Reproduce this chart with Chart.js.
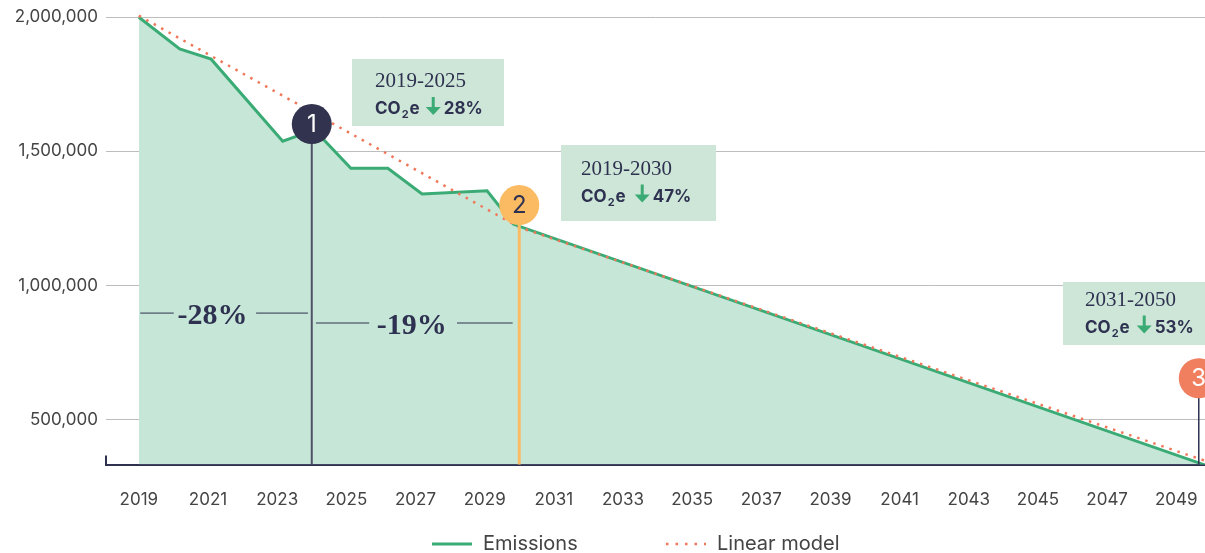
<!DOCTYPE html>
<html>
<head>
<meta charset="utf-8">
<script src="https://cdn.jsdelivr.net/npm/chart.js@4"></script>
<style>
	body { margin: 0; background: #fff; }
	canvas { display: block; }
</style>
</head>
<body>
<canvas id="myChart" width="1205" height="553"></canvas>
<script>
// emissions path (years are fractional where the kinks fall)
const emissionYears = [2019, 2020.18, 2021.09, 2023.16, 2024.08, 2025.13, 2026.2, 2027.19, 2029.07, 2029.84, 2050];
const emissionValues = [2000000, 1882000, 1844000, 1538000, 1580000, 1437000, 1437000, 1341000, 1353000, 1228000, 323000];

const linearYears = [2019, 2030, 2050];
const linearValues = [2006000, 1217000, 339000];

const yearTicks = [2019, 2021, 2023, 2025, 2027, 2029, 2031, 2033, 2035, 2037, 2039, 2041, 2043, 2045, 2047, 2049];
const valueTicks = [500000, 1000000, 1500000, 2000000];

// numbered milestones
const milestoneLabels = ['1', '2', '3'];
const milestoneYears = [2024, 2030, 2049.65];
const milestoneValues = [1602000, 1300000, 654000];

// period boxes
const periodLabels = ['2019-2025', '2019-2030', '2031-2050'];
const periodDrops = ['28%', '47%', '53%'];

// step labels between milestones
const stepLabels = ['-28%', '-19%'];
const stepYears = [2021.13, 2026.89];
const stepValues = [897000, 860000];
const stepDashYears = [
	[2019.04, 2020.01, 2022.39, 2023.89],
	[2024.12, 2025.66, 2028.2, 2029.81],
];

const NAVY = '#2e3150';
const GREEN = '#3bab76';
const CORAL = '#f0785a';

function drawArrow(ctx, cx, top, bottom) {
	ctx.save();
	ctx.strokeStyle = GREEN;
	ctx.fillStyle = GREEN;
	ctx.lineWidth = 3;
	ctx.beginPath();
	ctx.moveTo(cx, top);
	ctx.lineTo(cx, bottom - 5);
	ctx.stroke();
	ctx.beginPath();
	ctx.moveTo(cx - 7.5, bottom - 8);
	ctx.lineTo(cx + 7.5, bottom - 8);
	ctx.lineTo(cx, bottom);
	ctx.closePath();
	ctx.fill();
	ctx.restore();
}

function drawPeriodBox(ctx, box, period, drop) {
	ctx.fillStyle = '#cde6d7';
	ctx.fillRect(box.left, box.top, box.w, box.h);
	ctx.fillStyle = NAVY;
	ctx.textAlign = 'left';
	ctx.textBaseline = 'alphabetic';
	ctx.font = '21px "Liberation Serif"';
	ctx.fillText(period, box.tx, box.b1);

	let cx = box.tx;
	ctx.font = 'bold 17px Inter';
	ctx.fillText('CO', cx, box.b2);
	cx += ctx.measureText('CO').width + 1;
	ctx.font = 'bold 11px Inter';
	ctx.fillText('2', cx, box.b2 + 4);
	cx += ctx.measureText('2').width + 1;
	ctx.font = 'bold 17px Inter';
	ctx.fillText('e', cx, box.b2);
	cx += ctx.measureText('e').width + box.gap;
	drawArrow(ctx, cx + 7.5, box.b2 - 17, box.b2 + 1);
	cx += 18;
	ctx.fillStyle = NAVY;
	ctx.font = 'bold 17px Inter';
	ctx.fillText(drop, cx, box.b2);
}

const boxes = [
	{ left: 352, top: 59, w: 152, h: 67, tx: 375, b1: 87, b2: 114, gap: 6 },
	{ left: 561, top: 145, w: 155, h: 76, tx: 581, b1: 175, b2: 201.5, gap: 9 },
	{ left: 1063, top: 282, w: 152, h: 63, tx: 1085, b1: 306, b2: 332.5, gap: 7 },
];

const milestoneStyles = [
	{ fill: '#32344f', text: '#fff', line: '#4f5268', lineWidth: 2 },
	{ fill: '#fbbb63', text: NAVY, line: '#fbbb63', lineWidth: 3 },
	{ fill: '#f07f5f', text: '#fff', line: NAVY, lineWidth: 1.5 },
];

const overlay = {
	id: 'overlay',
	afterDraw(chart) {
		const { ctx, chartArea, scales: { x, y } } = chart;
		ctx.save();

		// step labels with dashes
		for (let i = 0; i < stepLabels.length; i++) {
			const yy = y.getPixelForValue(stepValues[i]);
			const d = stepDashYears[i].map((v) => x.getPixelForValue(v));
			ctx.strokeStyle = NAVY;
			ctx.lineWidth = 1;
			ctx.beginPath();
			ctx.moveTo(d[0], yy);
			ctx.lineTo(d[1], yy);
			ctx.moveTo(d[2], yy);
			ctx.lineTo(d[3], yy);
			ctx.stroke();
			ctx.fillStyle = NAVY;
			ctx.font = 'bold 30px "Liberation Serif"';
			ctx.textAlign = 'center';
			ctx.textBaseline = 'alphabetic';
			ctx.fillText(stepLabels[i], x.getPixelForValue(stepYears[i]), yy + 10.5);
		}

		// milestone lines and circles
		for (let i = 0; i < milestoneLabels.length; i++) {
			const st = milestoneStyles[i];
			const cx = x.getPixelForValue(milestoneYears[i]);
			const cy = y.getPixelForValue(milestoneValues[i]);
			ctx.strokeStyle = st.line;
			ctx.lineWidth = st.lineWidth;
			ctx.beginPath();
			ctx.moveTo(cx, cy);
			ctx.lineTo(cx, chartArea.bottom);
			ctx.stroke();
			ctx.fillStyle = st.fill;
			ctx.beginPath();
			ctx.arc(cx, cy, 20, 0, Math.PI * 2);
			ctx.fill();
			ctx.fillStyle = st.text;
			ctx.font = '24px Inter';
			ctx.textAlign = 'center';
			ctx.textBaseline = 'middle';
			ctx.fillText(milestoneLabels[i], cx, cy + 1);
		}

		// period boxes
		for (let i = 0; i < boxes.length; i++) {
			drawPeriodBox(ctx, boxes[i], periodLabels[i], periodDrops[i]);
		}

		// small stub at the bottom of the y axis
		ctx.strokeStyle = NAVY;
		ctx.lineWidth = 2;
		ctx.beginPath();
		ctx.moveTo(chartArea.left, chartArea.bottom - 9);
		ctx.lineTo(chartArea.left, chartArea.bottom);
		ctx.stroke();

		// legend
		const ly = 544;
		ctx.strokeStyle = GREEN;
		ctx.lineWidth = 3;
		ctx.beginPath();
		ctx.moveTo(432, ly);
		ctx.lineTo(472, ly);
		ctx.stroke();
		ctx.strokeStyle = CORAL;
		ctx.lineWidth = 2.5;
		ctx.setLineDash([2.5, 7]);
		ctx.beginPath();
		ctx.moveTo(666, ly);
		ctx.lineTo(706, ly);
		ctx.stroke();
		ctx.setLineDash([]);
		ctx.fillStyle = '#444';
		ctx.font = '20px Inter';
		ctx.textAlign = 'left';
		ctx.textBaseline = 'middle';
		ctx.fillText('Emissions', 483, ly);
		ctx.fillText('Linear model', 717, ly);

		ctx.restore();
	},
};

Chart.defaults.font.family = 'Inter';

const emissionPoints = emissionYears.map((yr, i) => ({ x: yr, y: emissionValues[i] }));
const linearPoints = linearYears.map((yr, i) => ({ x: yr, y: linearValues[i] }));

const ctx = document.getElementById('myChart');
const chart = new Chart(ctx, {
	type: 'line',
	data: {
		datasets: [
			{
				label: 'Linear model',
				data: linearPoints,
				borderColor: CORAL,
				borderWidth: 2.5,
				borderDash: [2.5, 6],
				fill: false,
				pointRadius: 0,
				order: 0,
			},
			{
				label: 'Emissions',
				data: emissionPoints,
				borderColor: GREEN,
				borderWidth: 3,
				backgroundColor: '#c6e7d7',
				fill: 'start',
				pointRadius: 0,
				order: 1,
			},
		],
	},
	options: {
		responsive: false,
		animation: false,
		events: [],
		devicePixelRatio: 1,
		layout: {
			padding: { top: 0, right: 0, bottom: 43, left: 0 },
		},
		scales: {
			x: {
				type: 'linear',
				min: 2018.05,
				max: 2049.83,
				afterBuildTicks: (scale) => {
					scale.ticks = yearTicks.map((v) => ({ value: v }));
				},
				ticks: {
					callback: (v) => String(v),
					padding: 0,
					color: '#444',
					font: { size: 17 },
					maxRotation: 0,
					autoSkip: false,
				},
				grid: {
					display: false,
					drawTicks: true,
					tickLength: 25,
				},
				border: {
					display: true,
					color: NAVY,
					width: 2,
				},
			},
			y: {
				min: 332000,
				max: 2026500,
				z: 1,
				afterBuildTicks: (scale) => {
					scale.ticks = valueTicks.map((v) => ({ value: v }));
				},
				afterFit: (scale) => {
					scale.width = 106;
				},
				ticks: {
					callback: (v) => v.toLocaleString('en-US'),
					padding: 0,
					color: '#444',
					font: { size: 17 },
				},
				grid: {
					color: '#bdbdbd',
					lineWidth: 1,
					drawTicks: true,
					tickLength: 8,
					tickColor: 'rgba(0,0,0,0)',
				},
				border: {
					display: false,
				},
			},
		},
		plugins: {
			legend: { display: false },
			tooltip: { enabled: false },
		},
	},
	plugins: [overlay],
});
</script>
</body>
</html>
